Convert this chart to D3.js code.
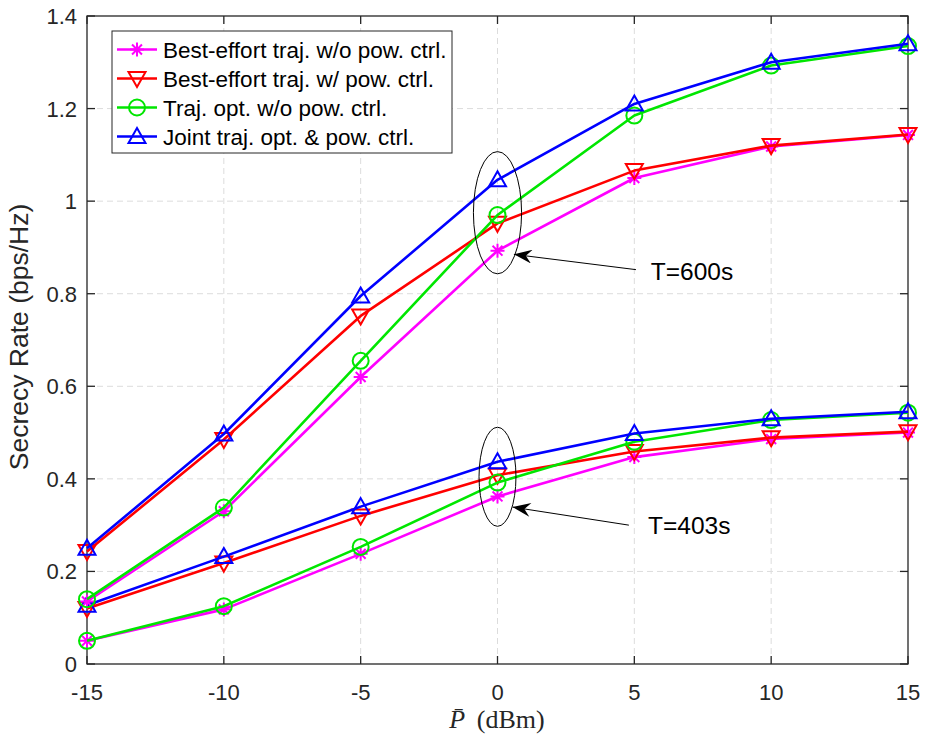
<!DOCTYPE html>
<html lang="en">
<head>
<meta charset="utf-8">
<title>Secrecy rate vs P</title>
<style>
body { margin:0; background:#fff; }
svg { display:block; font-family:"Liberation Sans", Arial, sans-serif; }
.grid line { stroke:#dcdcdc; stroke-dasharray:6,4; stroke-width:1; }
.tick-label { fill:#262626; font-size:22px; }
</style>
</head>
<body>
<svg width="925" height="738"></svg>
<script src="https://cdn.jsdelivr.net/npm/d3@7"></script>
<script>

// power levels (dBm)
var powers = [-15, -10, -5, 0, 5, 10, 15];
var xTicks = [-15, -10, -5, 0, 5, 10, 15];
var yTicks = [0, 0.2, 0.4, 0.6, 0.8, 1, 1.2, 1.4];

// T = 600 s
var beNoPc600   = [0.135, 0.33, 0.62, 0.893, 1.05, 1.118, 1.143];
var bePc600     = [0.243, 0.485, 0.752, 0.952, 1.066, 1.12, 1.144];
var optNoPc600  = [0.14, 0.338, 0.655, 0.97, 1.185, 1.293, 1.335];
var joint600    = [0.25, 0.497, 0.795, 1.046, 1.21, 1.30, 1.34];

// T = 403 s
var beNoPc403   = [0.05, 0.118, 0.238, 0.362, 0.447, 0.486, 0.50];
var bePc403     = [0.12, 0.218, 0.32, 0.408, 0.459, 0.489, 0.502];
var optNoPc403  = [0.05, 0.125, 0.253, 0.392, 0.48, 0.527, 0.543];
var joint403    = [0.127, 0.232, 0.34, 0.437, 0.498, 0.53, 0.545];

var seriesNames = ["Best-effort traj. w/o pow. ctrl.", "Best-effort traj. w/ pow. ctrl.",
                   "Traj. opt. w/o pow. ctrl.", "Joint traj. opt. & pow. ctrl."];
var seriesColors = ["#ff00ff", "#ff0000", "#00e600", "#0000ff"];
var seriesMarkers = ["star", "tridown", "circle", "triup"];

// ellipse annotations: center x, center y, rx, ry (data units), label, label pos, arrow tail/tip
var ellipses = [
  {cx: 0, cy: 0.975, rx: 0.88, ry: 0.132, label: "T=600s", lx: 5.6, ly: 0.83, tail: [5.06, 0.852], tip: [0.6, 0.885]},
  {cx: 0, cy: 0.4045, rx: 0.675, ry: 0.107, label: "T=403s", lx: 5.5, ly: 0.281, tail: [4.8, 0.3], tip: [0.55, 0.339]}
];

var svg = d3.select("svg");
var x = d3.scaleLinear().domain([-15, 15]).range([87, 908]);
var y = d3.scaleLinear().domain([0, 1.4]).range([664, 16]);

// grid
var grid = svg.append("g").attr("class", "grid");
grid.selectAll("line.v").data(xTicks.slice(1, -1)).enter().append("line")
  .attr("x1", function(d) { return x(d); }).attr("x2", function(d) { return x(d); })
  .attr("y1", y(0)).attr("y2", y(1.4));
grid.selectAll("line.h").data(yTicks.slice(1, -1)).enter().append("line")
  .attr("x1", x(-15)).attr("x2", x(15))
  .attr("y1", function(d) { return y(d); }).attr("y2", function(d) { return y(d); });

// axes (box with inward ticks)
var axes = svg.append("g").attr("fill", "none").attr("stroke", "#262626").attr("stroke-width", 1.3);
axes.append("rect").attr("x", x(-15)).attr("y", y(1.4))
  .attr("width", x(15) - x(-15)).attr("height", y(0) - y(1.4));
xTicks.forEach(function(t) {
  axes.append("line").attr("x1", x(t)).attr("x2", x(t)).attr("y1", y(0)).attr("y2", y(0) - 8);
  axes.append("line").attr("x1", x(t)).attr("x2", x(t)).attr("y1", y(1.4)).attr("y2", y(1.4) + 8);
});
yTicks.forEach(function(t) {
  axes.append("line").attr("x1", x(-15)).attr("x2", x(-15) + 8).attr("y1", y(t)).attr("y2", y(t));
  axes.append("line").attr("x1", x(15)).attr("x2", x(15) - 8).attr("y1", y(t)).attr("y2", y(t));
});

svg.selectAll("text.xt").data(xTicks).enter().append("text")
  .attr("class", "tick-label").attr("text-anchor", "middle")
  .attr("x", function(d) { return x(d); }).attr("y", 700)
  .text(function(d) { return d; });
svg.selectAll("text.yt").data(yTicks).enter().append("text")
  .attr("class", "tick-label").attr("text-anchor", "end")
  .attr("x", 77).attr("y", function(d) { return y(d) + 8; })
  .text(function(d) { return d3.format("~g")(d); });

// axis labels
svg.append("text").attr("transform", "translate(28," + 337 + ") rotate(-90)")
  .attr("text-anchor", "middle").attr("fill", "#262626").style("font-size", "26.5px")
  .text("Secrecy Rate (bps/Hz)");

var xl = svg.append("text").attr("x", 497).attr("y", 728).attr("text-anchor", "middle")
  .attr("fill", "#262626").style("font-family", "'Liberation Serif', 'DejaVu Serif', serif").style("font-size", "26px");
xl.append("tspan").style("font-style", "italic").text("P\u0304");
xl.append("tspan").text("\u2009 (dBm)");

// markers
function drawMarker(g, kind, cx, cy, color) {
  if (kind === "circle") {
    g.append("circle").attr("cx", cx).attr("cy", cy).attr("r", 8)
      .attr("fill", "none").attr("stroke", color).attr("stroke-width", 2);
  } else if (kind === "triup") {
    g.append("path").attr("d", "M" + cx + "," + (cy - 8.5) + "L" + (cx + 8.5) + "," + (cy + 6.5) + "L" + (cx - 8.5) + "," + (cy + 6.5) + "Z")
      .attr("fill", "none").attr("stroke", color).attr("stroke-width", 2);
  } else if (kind === "tridown") {
    g.append("path").attr("d", "M" + cx + "," + (cy + 8.5) + "L" + (cx + 8.5) + "," + (cy - 6.5) + "L" + (cx - 8.5) + "," + (cy - 6.5) + "Z")
      .attr("fill", "none").attr("stroke", color).attr("stroke-width", 2);
  } else {
    var r = 7, d = r * 0.707;
    g.append("path").attr("d",
      "M" + (cx - r) + "," + cy + "H" + (cx + r) +
      "M" + cx + "," + (cy - r) + "V" + (cy + r) +
      "M" + (cx - d) + "," + (cy - d) + "L" + (cx + d) + "," + (cy + d) +
      "M" + (cx - d) + "," + (cy + d) + "L" + (cx + d) + "," + (cy - d))
      .attr("fill", "none").attr("stroke", color).attr("stroke-width", 2);
  }
}

var line = d3.line().x(function(d, i) { return x(powers[i]); }).y(function(d) { return y(d); });
var allSeries = [
  [beNoPc403, 0], [bePc403, 1], [optNoPc403, 2], [joint403, 3],
  [beNoPc600, 0], [bePc600, 1], [optNoPc600, 2], [joint600, 3]
];
var plot = svg.append("g");
allSeries.forEach(function(s) {
  var vals = s[0], k = s[1];
  var g = plot.append("g");
  g.append("path").datum(vals).attr("d", line).attr("fill", "none")
    .attr("stroke", seriesColors[k]).attr("stroke-width", 2.6).attr("stroke-linejoin", "round");
  vals.forEach(function(v, i) { drawMarker(g, seriesMarkers[k], x(powers[i]), y(v), seriesColors[k]); });
});

// annotations
svg.append("defs").append("marker").attr("id", "arr").attr("viewBox", "0 0 20 14")
  .attr("refX", 0).attr("refY", 7).attr("markerWidth", 20).attr("markerHeight", 14)
  .attr("markerUnits", "userSpaceOnUse").attr("orient", "auto")
  .append("path").attr("d", "M0,7 L18,0 L12,7 L18,14 Z").attr("fill", "#000");

ellipses.forEach(function(e) {
  svg.append("ellipse").attr("cx", x(e.cx)).attr("cy", y(e.cy))
    .attr("rx", x(e.rx) - x(0)).attr("ry", y(0) - y(e.ry))
    .attr("fill", "none").attr("stroke", "#000").attr("stroke-width", 1);
  svg.append("line").attr("x1", x(e.tip[0])).attr("y1", y(e.tip[1]))
    .attr("x2", x(e.tail[0])).attr("y2", y(e.tail[1]))
    .attr("stroke", "#000").attr("stroke-width", 1).attr("marker-start", "url(#arr)");
  svg.append("text").attr("x", x(e.lx)).attr("y", y(e.ly)).attr("fill", "#000")
    .style("font-size", "24.5px").text(e.label);
});

// legend
var lg = svg.append("g");
lg.append("rect").attr("x", 112).attr("y", 31).attr("width", 340).attr("height", 122)
  .attr("fill", "#fff").attr("stroke", "#262626").attr("stroke-width", 1);
seriesNames.forEach(function(name, i) {
  var cy = 49.5 + i * 29;
  lg.append("line").attr("x1", 117).attr("x2", 157).attr("y1", cy).attr("y2", cy)
    .attr("stroke", seriesColors[i]).attr("stroke-width", 2.6);
  drawMarker(lg, seriesMarkers[i], 137, cy, seriesColors[i]);
  lg.append("text").attr("x", 163).attr("y", cy + 8).attr("fill", "#000")
    .style("font-size", "22.5px").text(name);
});
</script>
</body>
</html>
